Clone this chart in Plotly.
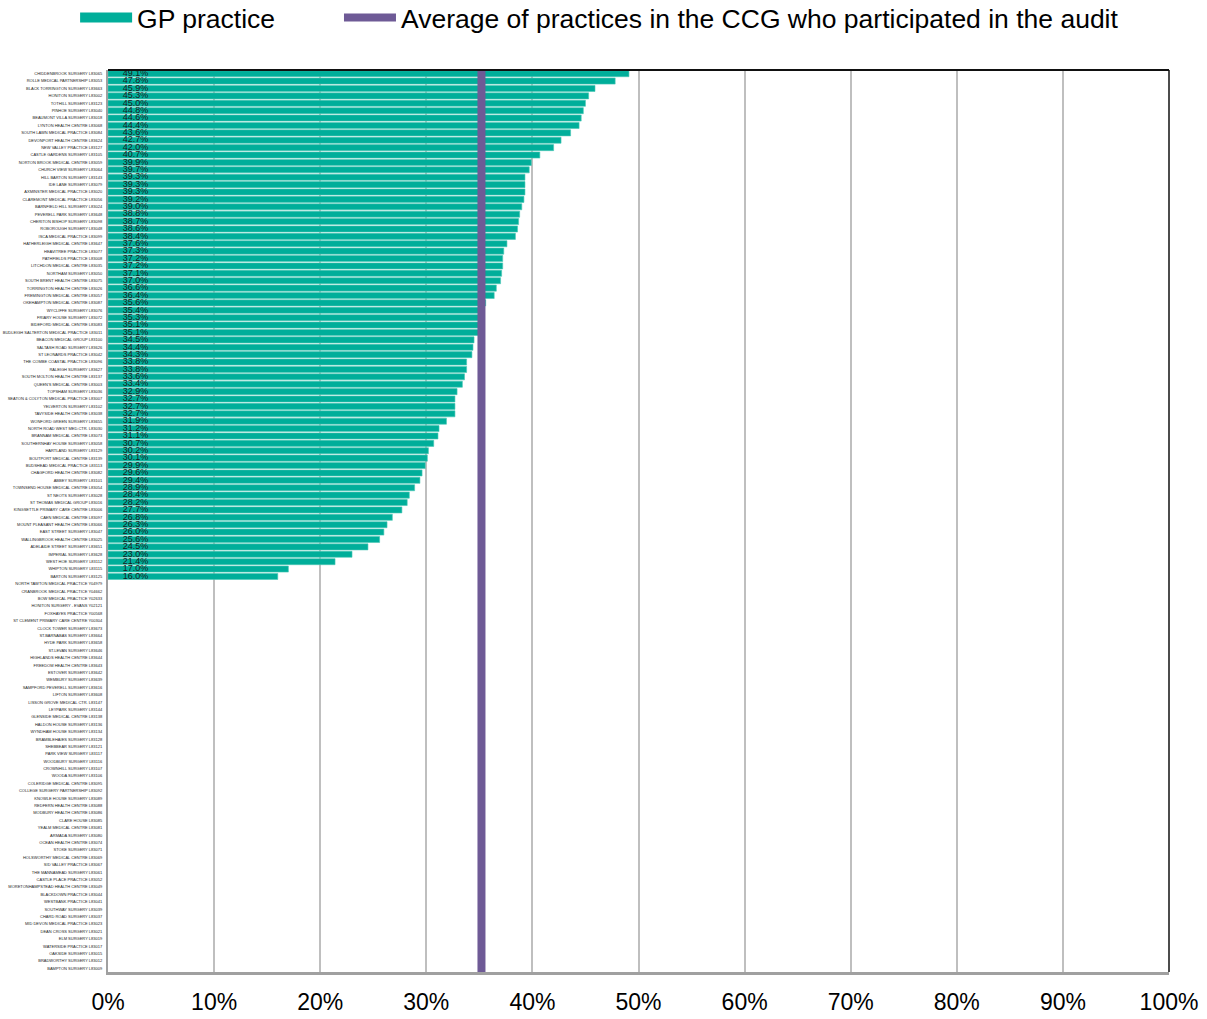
import plotly.graph_objects as go

practices = [
    "CHIDDENBROOK SURGERY L83065", "ROLLE MEDICAL PARTNERSHIP L83053", "BLACK TORRINGTON SURGERY L83663",
    "HONITON SURGERY L83002", "TOTHILL SURGERY L83123", "PINHOE SURGERY L83040",
    "BEAUMONT VILLA SURGERY L83018", "LYNTON HEALTH CENTRE L83068", "SOUTH LAWN MEDICAL PRACTICE L83084",
    "DEVONPORT HEALTH CENTRE L83624", "NEW VALLEY PRACTICE L83127", "CASTLE GARDENS SURGERY L83105",
    "NORTON BROOK MEDICAL CENTRE L83059", "CHURCH VIEW SURGERY L83064", "HILL BARTON SURGERY L83143",
    "IDE LANE SURGERY L83079", "AXMINSTER MEDICAL PRACTICE L83020", "CLAREMONT MEDICAL PRACTICE L83056",
    "BARNFIELD HILL SURGERY L83024", "PEVERELL PARK SURGERY L83648", "CHERITON BISHOP SURGERY L83098",
    "ROBOROUGH SURGERY L83048", "ISCA MEDICAL PRACTICE L83099", "HATHERLEIGH MEDICAL CENTRE L83647",
    "HEAVITREE PRACTICE L83077", "PATHFIELDS PRACTICE L83008", "LITCHDON MEDICAL CENTRE L83035",
    "NORTHAM SURGERY L83050", "SOUTH BRENT HEALTH CENTRE L83075", "TORRINGTON HEALTH CENTRE L83026",
    "FREMINGTON MEDICAL CENTRE L83057", "OKEHAMPTON MEDICAL CENTRE L83087", "WYCLIFFE SURGERY L83076",
    "FRIARY HOUSE SURGERY L83072", "BIDEFORD MEDICAL CENTRE L83083", "BUDLEIGH SALTERTON MEDICAL PRACTICE L83011",
    "BEACON MEDICAL GROUP L83100", "SALTASH ROAD SURGERY L83626", "ST LEONARDS PRACTICE L83042",
    "THE COMBE COASTAL PRACTICE L83096", "RALEIGH SURGERY L83627", "SOUTH MOLTON HEALTH CENTRE L83137",
    "QUEEN'S MEDICAL CENTRE L83003", "TOPSHAM SURGERY L83036", "SEATON & COLYTON MEDICAL PRACTICE L83007",
    "YELVERTON SURGERY L83102", "TAVYSIDE HEALTH CENTRE L83038", "WONFORD GREEN SURGERY L83655",
    "NORTH ROAD WEST MED.CTR. L83030", "BRANNAM MEDICAL CENTRE L83073", "SOUTHERNHAY HOUSE SURGERY L83058",
    "HARTLAND SURGERY L83129", "BOUTPORT MEDICAL CENTRE L83139", "BUDSHEAD MEDICAL PRACTICE L83113",
    "CHAGFORD HEALTH CENTRE L83082", "ABBEY SURGERY L83101", "TOWNSEND HOUSE MEDICAL CENTRE L83054",
    "ST NEOTS SURGERY L83028", "ST THOMAS MEDICAL GROUP L83016", "KINGSETTLE PRIMARY CARE CENTRE L83006",
    "CAEN MEDICAL CENTRE L83097", "MOUNT PLEASANT HEALTH CENTRE L83066", "EAST STREET SURGERY L83047",
    "WALLINGBROOK HEALTH CENTRE L83025", "ADELAIDE STREET SURGERY L83651", "IMPERIAL SURGERY L83628",
    "WEST HOE SURGERY L83112", "WHIPTON SURGERY L83115", "BARTON SURGERY L83125",
    "NORTH TAWTON MEDICAL PRACTICE Y04979", "CRANBROOK MEDICAL PRACTICE Y04662", "BOW MEDICAL PRACTICE Y02633",
    "HONITON SURGERY - EVANS Y02121", "FOXHAYES PRACTICE Y00568", "ST CLEMENT PRIMARY CARE CENTRE Y00304",
    "CLOCK TOWER SURGERY L83673", "ST.BARNABAS SURGERY L83664", "HYDE PARK SURGERY L83658",
    "ST.LEVAN SURGERY L83646", "HIGHLANDS HEALTH CENTRE L83644", "FREEDOM HEALTH CENTRE L83643",
    "ESTOVER SURGERY L83642", "WEMBURY SURGERY L83639", "SAMPFORD PEVERELL SURGERY L83616",
    "LIFTON SURGERY L83608", "LISSON GROVE MEDICAL CTR. L83147", "LEYPARK SURGERY L83144",
    "GLENSIDE MEDICAL CENTRE L83138", "HALDON HOUSE SURGERY L83136", "WYNDHAM HOUSE SURGERY L83134",
    "BRAMBLEHAIES SURGERY L83128", "SHEBBEAR SURGERY L83121", "PARK VIEW SURGERY L83117",
    "WOODBURY SURGERY L83116", "CROWNHILL SURGERY L83107", "WOODA SURGERY L83106",
    "COLERIDGE MEDICAL CENTRE L83095", "COLLEGE SURGERY PARTNERSHIP L83092", "KNOWLE HOUSE SURGERY L83089",
    "REDFERN HEALTH CENTRE L83088", "MODBURY HEALTH CENTRE L83086", "CLARE HOUSE L83085",
    "YEALM MEDICAL CENTRE L83081", "ARMADA SURGERY L83080", "OCEAN HEALTH CENTRE L83074",
    "STOKE SURGERY L83071", "HOLSWORTHY MEDICAL CENTRE L83069", "SID VALLEY PRACTICE L83067",
    "THE MANNAMEAD SURGERY L83061", "CASTLE PLACE PRACTICE L83052", "MORETONHAMPSTEAD HEALTH CENTRE L83049",
    "BLACKDOWN PRACTICE L83044", "WESTBANK PRACTICE L83041", "SOUTHWAY SURGERY L83039",
    "CHARD ROAD SURGERY L83037", "MID DEVON MEDICAL PRACTICE L83023", "DEAN CROSS SURGERY L83021",
    "ELM SURGERY L83019", "WATERSIDE PRACTICE L83017", "OAKSIDE SURGERY L83015",
    "BRADWORTHY SURGERY L83012", "BAMPTON SURGERY L83009",
]

values = [
    49.1, 47.8, 45.9, 45.3, 45.0, 44.8, 44.6, 44.4, 43.6, 42.7, 42.0, 40.7,
    39.9, 39.7, 39.3, 39.3, 39.3, 39.2, 39.0, 38.8, 38.7, 38.6, 38.4, 37.6,
    37.3, 37.2, 37.2, 37.1, 37.0, 36.6, 36.4, 35.6, 35.4, 35.3, 35.1, 35.1,
    34.5, 34.4, 34.3, 33.8, 33.8, 33.6, 33.4, 32.9, 32.7, 32.7, 32.7, 31.9,
    31.2, 31.1, 30.7, 30.2, 30.1, 29.9, 29.6, 29.4, 28.9, 28.4, 28.2, 27.7,
    26.8, 26.3, 26.0, 25.6, 24.5, 23.0, 21.4, 17.0, 16.0,
]
values = values + [None] * (len(practices) - len(values))

ccg_average = 35.2

x_ticks = [0, 10, 20, 30, 40, 50, 60, 70, 80, 90, 100]
x_tick_labels = [f"{t}%" for t in x_ticks]

TEAL = "#00AE9A"
PURPLE = "#6E5A96"
LABEL_OFFSET = 1.4  # value-label inset from the bar start, in axis units

label_y = [p for p, v in zip(practices, values) if v is not None]
label_text = [f"{v:.1f}%" for v in values if v is not None]

fig = go.Figure()

fig.add_trace(go.Bar(
    x=values, y=practices, orientation="h",
    marker=dict(color=TEAL, line=dict(color="#4CC7B6", width=0.6)),
    name="GP practice", showlegend=False,
))

fig.add_trace(go.Scatter(
    x=[LABEL_OFFSET] * len(label_y), y=label_y, mode="text",
    text=label_text, textposition="middle right",
    textfont=dict(size=9, color="#1a1a1a"),
    showlegend=False, hoverinfo="skip",
))

# legend entry for the bars (wide rectangle like the original)
fig.add_trace(go.Scatter(
    x=[None], y=[None], mode="lines",
    line=dict(color=TEAL, width=12),
    name="GP practice" + "\u00a0" * 8,
))

fig.add_trace(go.Scatter(
    x=[ccg_average, ccg_average], y=[0, 1], yaxis="y2", mode="lines",
    line=dict(color=PURPLE, width=8),
    name="Average of practices in the CCG who participated in the audit",
))

n = len(practices)

fig.update_layout(
    width=1207, height=1019,
    margin=dict(l=108, r=38, t=70, b=47, autoexpand=False),
    paper_bgcolor="white", plot_bgcolor="white",
    font=dict(family="Liberation Sans, Arial", color="#000000"),
    bargap=0.18,
    showlegend=True,
    legend=dict(
        orientation="h", x=-0.031, xanchor="left", y=1.058, yanchor="middle",
        font=dict(size=26.5, color="#000000"), itemwidth=52,
        traceorder="normal",
    ),
    xaxis=dict(
        range=[0, 100], tickvals=x_ticks, ticktext=x_tick_labels,
        showgrid=True, gridcolor="#BFBFBF", gridwidth=2,
        zeroline=False, showline=True, linecolor="#A0A0A0", linewidth=3,
        tickfont=dict(size=23, color="#000000"), ticks="", ticklabelstandoff=7,
        automargin=False,
    ),
    yaxis=dict(
        categoryorder="array", categoryarray=practices, range=[n - 0.5, -0.5],
        tickfont=dict(size=4.0, color="#222222"), ticks="",
        showline=True, linecolor="#A0A0A0", linewidth=2, showgrid=False,
        ticklabelstandoff=3, automargin=False,
    ),
    yaxis2=dict(overlaying="y", range=[0, 1], visible=False),
    shapes=[
        dict(type="line", xref="paper", yref="paper", x0=0, x1=1, y0=1, y1=1,
             line=dict(color="#111111", width=2)),
        dict(type="line", xref="paper", yref="paper", x0=1, x1=1, y0=0, y1=1,
             line=dict(color="#111111", width=1.5)),
    ],
)

fig.write_html(
    "out.html",
    config={"displayModeBar": False},
    post_script="document.body.style.margin='0px';",
)
